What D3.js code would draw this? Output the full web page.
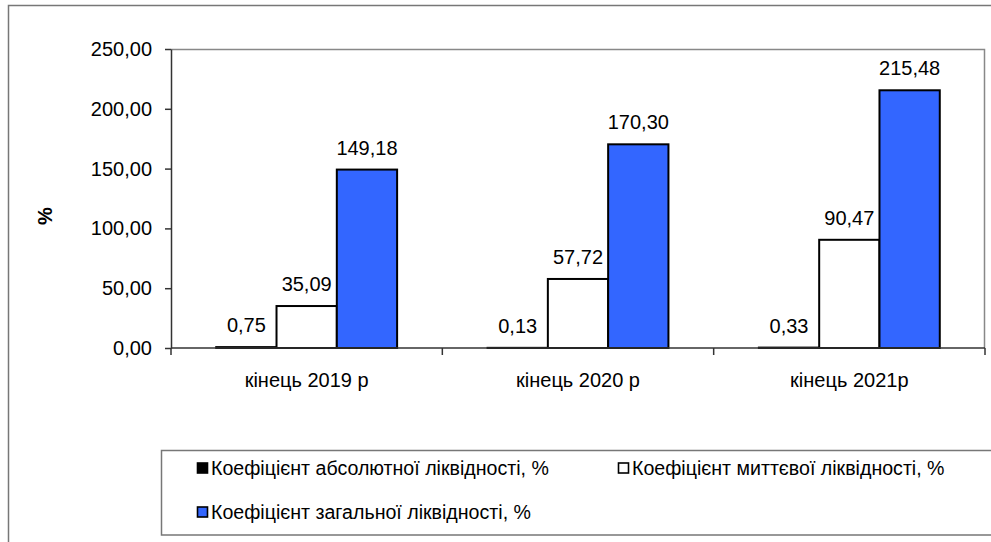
<!DOCTYPE html>
<html>
<head>
<meta charset="utf-8">
<script src="https://cdn.jsdelivr.net/npm/d3@7"></script>
<style>
  body { margin: 0; background: #fff; }
  svg { display: block; font-family: Arial, "Liberation Sans", sans-serif; }
</style>
</head>
<body>
<svg width="991" height="542"></svg>
<script>
const categories = ["кінець 2019 р", "кінець 2020 р", "кінець 2021р"];
const seriesNames = [
  "Коефіцієнт абсолютної ліквідності, %",
  "Коефіцієнт миттєвої ліквідності, %",
  "Коефіцієнт загальної ліквідності, %"
];
const absolute = [0.75, 0.13, 0.33];
const quick = [35.09, 57.72, 90.47];
const general = [149.18, 170.30, 215.48];
const yTicks = [0, 50, 100, 150, 200, 250];
const colors = ["#000000", "#ffffff", "#3366ff"];

const series = [absolute, quick, general];
const data = categories.map((c, i) => ({cat: c, values: series.map(s => s[i])}));

const svg = d3.select("svg");
const margin = {left: 171, top: 49, right: 6, bottom: 194};
const width = 991 - margin.left - margin.right,
      height = 542 - margin.top - margin.bottom;

const fmt = v => v.toFixed(2).replace(".", ",");

// outer frame (cropped)
svg.append("path")
  .attr("d", "M8.5,542 V5.5 H991")
  .attr("fill", "none").attr("stroke", "#777").attr("stroke-width", 1.5);

const g = svg.append("g").attr("transform", `translate(${margin.left},${margin.top})`);

const x0 = d3.scaleBand().domain(categories).range([0, width]).paddingInner(0).paddingOuter(0);
const x1 = d3.scaleBand().domain(d3.range(3)).range([0, x0.bandwidth()]).paddingOuter(0.75).paddingInner(0);
const y = d3.scaleLinear().domain([0, 250]).range([height, 0]);

// plot area border (top/right)
g.append("path")
  .attr("d", `M0,0.5 H${width - 0.5} V${height}`)
  .attr("fill", "none").attr("stroke", "#888").attr("stroke-width", 1.5);

const groups = g.selectAll(".grp").data(data).join("g")
  .attr("transform", d => `translate(${x0(d.cat)},0)`);

groups.selectAll("rect").data(d => d.values).join("rect")
  .attr("x", (d, i) => x1(i))
  .attr("y", d => y(d))
  .attr("width", x1.bandwidth())
  .attr("height", d => height - y(d))
  .attr("fill", (d, i) => colors[i])
  .attr("stroke", "#000").attr("stroke-width", 2);

groups.selectAll("text").data(d => d.values).join("text")
  .attr("x", (d, i) => x1(i) + x1.bandwidth() / 2)
  .attr("y", d => y(d) - 15)
  .attr("text-anchor", "middle")
  .attr("font-size", 20)
  .attr("fill", "#000")
  .text(d => fmt(d));

const yAxis = g.append("g")
  .call(d3.axisLeft(y).tickValues(yTicks).tickFormat(fmt).tickSize(6).tickSizeOuter(0));
yAxis.select(".domain").attr("stroke", "#333").attr("stroke-width", 1.5);
yAxis.selectAll(".tick line").attr("stroke", "#333").attr("stroke-width", 1.5);
yAxis.selectAll(".tick text").attr("font-size", 20).attr("font-family", "Arial, 'Liberation Sans', sans-serif").attr("fill", "#000").attr("x", -19);

const xAxis = g.append("g").attr("transform", `translate(0,${height})`);
xAxis.append("line").attr("x1", 0).attr("x2", width).attr("stroke", "#333").attr("stroke-width", 1.5);
xAxis.selectAll(".tk").data(d3.range(categories.length + 1)).join("line")
  .attr("x1", i => i * x0.bandwidth()).attr("x2", i => i * x0.bandwidth())
  .attr("y1", 0).attr("y2", 7)
  .attr("stroke", "#333").attr("stroke-width", 1.5);
xAxis.selectAll(".lbl").data(categories).join("text")
  .attr("x", d => x0(d) + x0.bandwidth() / 2)
  .attr("y", 39)
  .attr("text-anchor", "middle")
  .attr("font-size", 20)
  .text(d => d);

svg.append("text")
  .attr("transform", "translate(52,216) rotate(-90)")
  .attr("text-anchor", "middle")
  .attr("font-size", 20).attr("font-weight", "bold")
  .text("%");

// legend
svg.append("path")
  .attr("d", "M991,450.5 H161.5 V535 H991")
  .attr("fill", "none").attr("stroke", "#777").attr("stroke-width", 1.5);

const legendPos = [[197, 468], [618, 468], [197, 512]];
const leg = svg.selectAll(".leg").data(seriesNames).join("g")
  .attr("transform", (d, i) => `translate(${legendPos[i][0]},${legendPos[i][1]})`);
leg.append("rect")
  .attr("x", 0.5).attr("y", -5)
  .attr("width", 10).attr("height", 10)
  .attr("fill", (d, i) => colors[i])
  .attr("stroke", "#000").attr("stroke-width", 1.6);
leg.append("text")
  .attr("x", 14).attr("y", 7)
  .attr("font-size", 19.6)
  .text(d => d);
</script>
</body>
</html>
